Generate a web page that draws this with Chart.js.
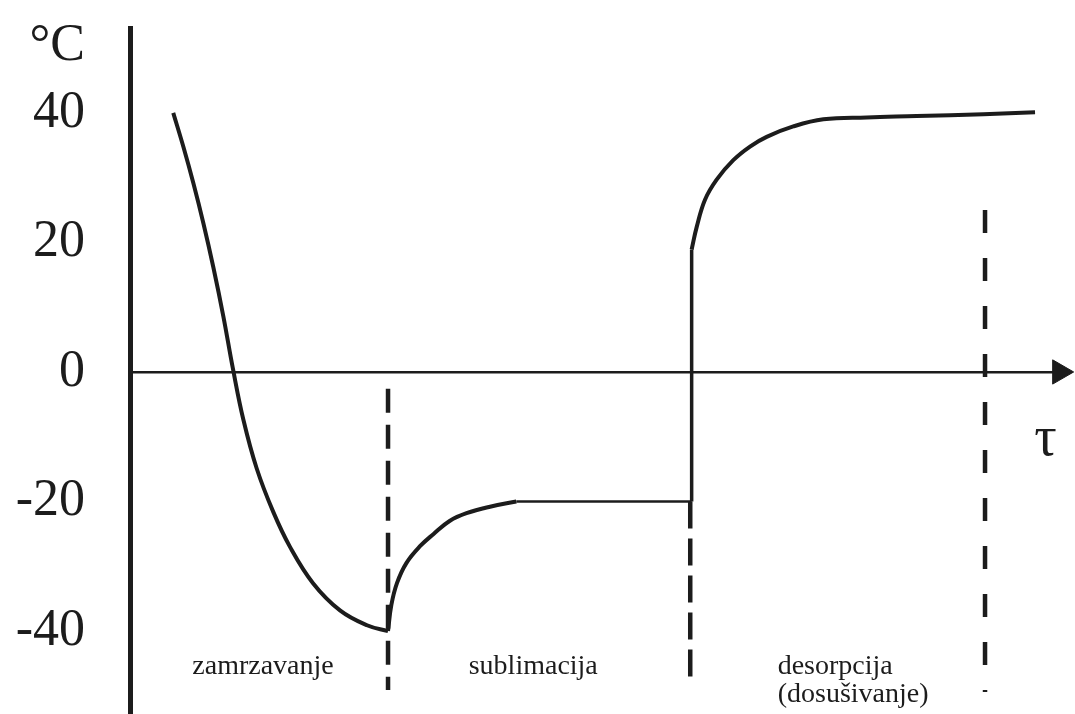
<!DOCTYPE html>
<html>
<head>
<meta charset="utf-8">
<script src="https://cdn.jsdelivr.net/npm/chart.js@4"></script>
<style>
  html, body { margin: 0; padding: 0; background: #fff; }
  #wrap { width: 1075px; height: 714px; }
</style>
</head>
<body>
<div id="wrap"><canvas id="chart" width="1075" height="714"></canvas></div>
<script>
// freezing (zamrzavanje)
const freezeTime = [4.6, 5.67, 6.73, 7.8, 8.86, 9.93, 10.95, 12.05, 13.48, 15.24, 17.02, 19.47, 22.34, 25.21, 27.45];
const freezeTemp = [40.0, 34.8, 29.2, 23.0, 16.2, 8.6, 0.5, -7.3, -14.9, -21.6, -27.0, -32.6, -36.8, -39.1, -40.0];

// sublimation (sublimacija)
const sublimTime = [27.45, 27.8, 28.4, 29.4, 30.85, 32.3, 34.0, 35.8, 38.3, 41.1];
const sublimTemp = [-40.0, -36.0, -32.6, -29.5, -26.9, -25.0, -23.0, -21.8, -20.8, -20.0];
const plateauTime = [41.1, 59.75];
const plateauTemp = [-20, -20];

// heating step + desorption
const jumpTime = [59.75, 59.75];
const jumpTemp = [-20, 18.9];
const desorpTime = [59.75, 60.29, 61.17, 62.41, 64.18, 65.96, 67.73, 70.56, 73.76, 78.37, 83.69, 90.78, 96.28];
const desorpTemp = [18.9, 22.4, 26.6, 29.7, 32.7, 34.8, 36.3, 37.9, 39.0, 39.3, 39.5, 39.8, 40.1];

// phase boundaries (dashed)
const boundaryTime = [27.45, 59.6, 90.96];
const boundaryTop = [-2.6, -20, 25.0];
const boundaryBottom = [-49.1, -47.9, -49.4];
const boundaryDash = [[24, 12], [27, 10], [23, 25]];

// axis ticks
const yTicks = [-40, -20, 0, 20, 40];
const yUnitAt = 50.2;
const yUnit = '°C';

// phase labels: [text, time, temp, align]
const phaseLabels = [
  ['zamrzavanje', 14.15, -46.6, 'center'],
  ['sublimacija', 42.9, -46.6, 'center'],
  ['desorpcija', 68.9, -46.6, 'left'],
  ['(dosušivanje)', 68.9, -51.0, 'left']
];
const axisLabelX = ['τ', 97.4, -12.8];

const INK = '#1c1c1c';
const SERIF = '"Liberation Serif", "DejaVu Serif", serif';

const pts = (xs, ys) => xs.map((x, i) => ({ x: x, y: ys[i] }));

const datasets = [
  { data: pts(freezeTime, freezeTemp), borderWidth: 4, tension: 0.4 },
  { data: pts(sublimTime, sublimTemp), borderWidth: 4, tension: 0.4 },
  { data: pts(plateauTime, plateauTemp), borderWidth: 2.5 },
  { data: pts(jumpTime, jumpTemp), borderWidth: 3.5 },
  { data: pts(desorpTime, desorpTemp), borderWidth: 4, tension: 0.4 }
];
boundaryTime.forEach((t, i) => {
  datasets.push({
    data: [{ x: t, y: boundaryTop[i] }, { x: t, y: boundaryBottom[i] }],
    borderWidth: 4.5,
    borderDash: boundaryDash[i],
    borderCapStyle: 'butt'
  });
});
// arrow head of the time axis
datasets.push({
  data: [{ x: 98.9, y: 0 }],
  showLine: false,
  pointStyle: 'triangle',
  rotation: 90,
  pointRadius: 14,
  pointBackgroundColor: INK,
  pointBorderColor: INK,
  pointBorderWidth: 1
});
datasets.forEach(d => {
  d.borderColor = INK;
  d.borderJoinStyle = 'round';
  if (d.pointRadius === undefined) d.pointRadius = 0;
  d.clip = false;
});

const labelPlugin = {
  id: 'phaseLabels',
  afterDraw(chart) {
    const ctx = chart.ctx;
    const xs = chart.scales.x, ys = chart.scales.y;
    ctx.save();
    ctx.fillStyle = INK;
    ctx.textBaseline = 'alphabetic';
    ctx.font = '28px ' + SERIF;
    phaseLabels.forEach(([txt, t, v, align]) => {
      ctx.textAlign = align;
      ctx.fillText(txt, xs.getPixelForValue(t), ys.getPixelForValue(v));
    });
    ctx.font = '56px ' + SERIF;
    ctx.textAlign = 'center';
    ctx.fillText(axisLabelX[0], xs.getPixelForValue(axisLabelX[1]), ys.getPixelForValue(axisLabelX[2]));
    ctx.restore();
  }
};

new Chart(document.getElementById('chart'), {
  type: 'line',
  data: { datasets: datasets },
  plugins: [labelPlugin],
  options: {
    responsive: false,
    animation: false,
    layout: { autoPadding: false, padding: { top: 28, right: 5, bottom: 0, left: 0 } },
    plugins: { legend: { display: false }, tooltip: { enabled: false } },
    elements: { line: { tension: 0 } },
    scales: {
      x: {
        type: 'linear',
        min: 0,
        max: 100,
        position: { y: 0 },
        afterFit(scale) { scale.paddingLeft = 0; scale.paddingRight = 0; },
        grid: { display: false, drawTicks: false },
        ticks: { display: false },
        border: { display: true, color: INK, width: 2.5 }
      },
      y: {
        type: 'linear',
        min: -52.8,
        max: 53.1,
        afterFit(scale) {
          scale.width = 130;
          scale.paddingTop = 0;
          scale.paddingBottom = 0;
        },
        afterBuildTicks(scale) {
          scale.ticks = yTicks.concat([yUnitAt]).map(v => ({ value: v }));
        },
        grid: { display: false, drawTicks: false },
        border: { display: true, color: INK, width: 5 },
        ticks: {
          padding: 45,
          color: INK,
          font: { family: SERIF, size: 52 },
          callback: v => (v === yUnitAt ? yUnit : String(v))
        }
      }
    }
  }
});
</script>
</body>
</html>
